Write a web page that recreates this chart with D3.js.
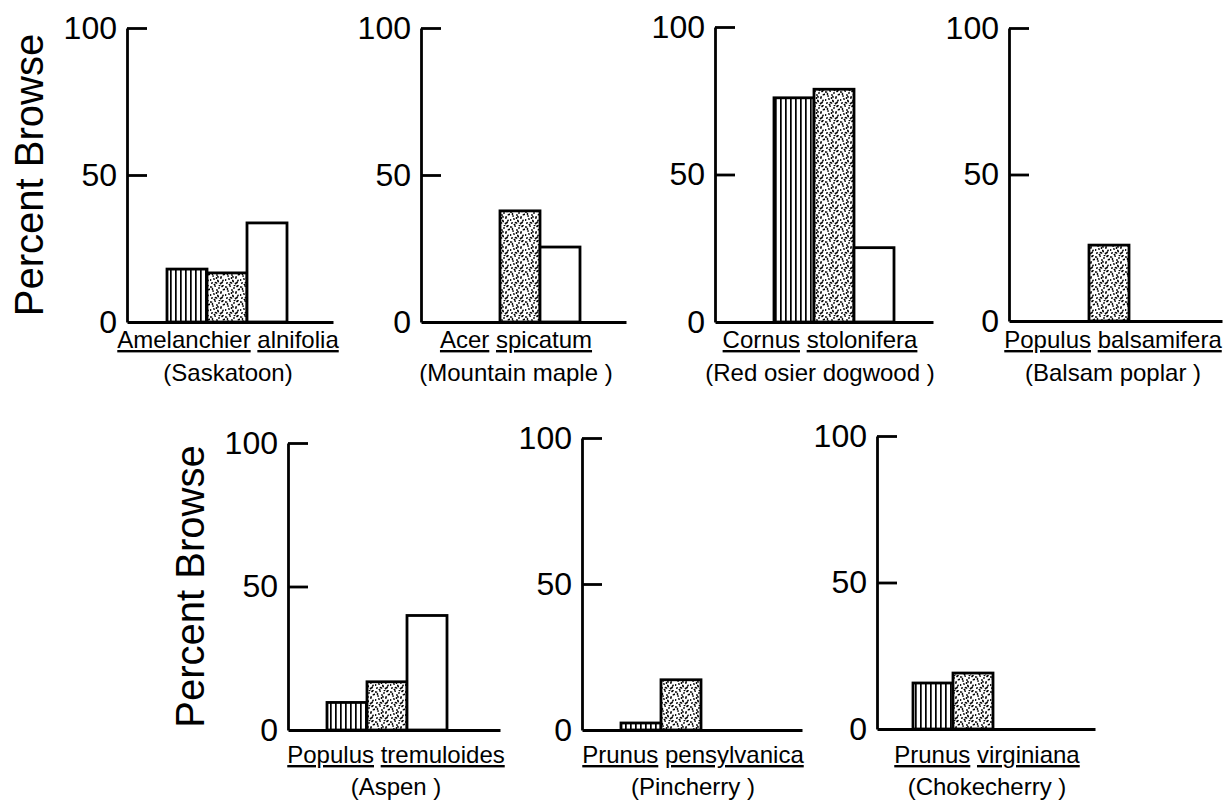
<!DOCTYPE html>
<html>
<head>
<meta charset="utf-8">
<script src="https://cdn.jsdelivr.net/npm/d3@7/dist/d3.min.js"></script>
<style>
  html, body { margin: 0; padding: 0; background: #fff; }
  svg { display: block; }
  text { font-family: "Liberation Sans", Arial, sans-serif; fill: #000; }
  .uline { text-decoration: underline; text-decoration-thickness: 1.8px; text-underline-offset: 4px; }
</style>
</head>
<body>
<svg id="chart" width="1230" height="810"></svg>
<script>
// ---------------- data ----------------
const series = ["vertical", "stippled", "open"];
const genus = ["Amelanchier", "Acer", "Cornus", "Populus", "Populus", "Prunus", "Prunus"];
const species = ["alnifolia", "spicatum", "stolonifera", "balsamifera", "tremuloides", "pensylvanica", "virginiana"];
const commonNames = ["(Saskatoon)", "(Mountain maple )", "(Red osier dogwood )", "(Balsam poplar )", "(Aspen )", "(Pincherry )", "(Chokecherry )"];
const verticalValues = [18, 0, 76, 0, 9.6, 2.4, 15.7];
const stippledValues = [16.7, 37.8, 78.9, 25.9, 16.8, 17.2, 19.1];
const openValues = [33.7, 25.5, 25.2, 0, 39.9, 0, 0];
const tickValues = [0, 50, 100];
const yAxisTitle = "Percent Browse";

// ---------------- layout (positions only) ----------------
const layout = [
  { axisX: 127,  top: 28,  base: 322, barStart: 40, len: 206, labelX: 228, line1: 348, line2: 381, title: true },
  { axisX: 421,  top: 28,  base: 322, barStart: 39, len: 205, labelX: 516, line1: 348, line2: 381 },
  { axisX: 715,  top: 27,  base: 322, barStart: 59, len: 218, labelX: 820, line1: 348, line2: 381 },
  { axisX: 1009, top: 28,  base: 321, barStart: 40, len: 213, labelX: 1113, line1: 348, line2: 381 },
  { axisX: 288,  top: 443, base: 730, barStart: 39, len: 212, labelX: 396, line1: 763, line2: 795, title: true },
  { axisX: 582,  top: 438, base: 730, barStart: 39, len: 220, labelX: 693, line1: 763, line2: 795 },
  { axisX: 877,  top: 436, base: 729, barStart: 36, len: 218, labelX: 987, line1: 763, line2: 795 }
];
const barW = 40;

const svg = d3.select("#chart");
const defs = svg.append("defs");

// vertical line hatching
const pv = defs.append("pattern").attr("id", "pat-vertical")
  .attr("patternUnits", "userSpaceOnUse").attr("width", 5).attr("height", 10);
pv.append("rect").attr("width", 5).attr("height", 10).attr("fill", "#fff");
pv.append("rect").attr("x", 0).attr("y", 0).attr("width", 1.7).attr("height", 10).attr("fill", "#000");

// stipple texture (hand-placed specks)
const stippleDots = [
  [1,2],[5,1],[9,3],[12.5,1],[3,6],[7,5],[11,7.5],[0.5,10],[4,9],[8,11],[13,10.5],
  [2,13],[6,12.8],[10.5,13.5],[6.5,8],[14,4.5],[9.5,0.3],[2.5,4],[12,12.5],[4.5,14.5],[8,6.8]
];
const ps = defs.append("pattern").attr("id", "pat-stippled")
  .attr("patternUnits", "userSpaceOnUse").attr("width", 15).attr("height", 15);
ps.append("rect").attr("width", 15).attr("height", 15).attr("fill", "#fff");
ps.selectAll("ellipse").data(stippleDots).join("ellipse")
  .attr("cx", d => d[0]).attr("cy", d => d[1])
  .attr("rx", (d, i) => i % 3 === 0 ? 1.5 : 1.0).attr("ry", 0.85)
  .attr("transform", (d, i) => `rotate(${(i * 47) % 180} ${d[0]} ${d[1]})`)
  .attr("fill", "#000");

const fills = { vertical: "url(#pat-vertical)", stippled: "url(#pat-stippled)", open: "#fff" };

layout.forEach((L, p) => {
  const vals = [verticalValues[p], stippledValues[p], openValues[p]];
  const bars = series.map((s, i) => ({ s, v: vals[i] })).filter(d => d.v > 0);

  const y = d3.scaleLinear().domain([0, 100]).range([L.base, L.top]);
  const x = d3.scaleBand().domain(series)
    .range([L.axisX + L.barStart, L.axisX + L.barStart + barW * series.length]).padding(0);
  const xBase = d3.scaleLinear().domain([0, 1]).range([L.axisX, L.axisX + L.len]);

  const g = svg.append("g");

  // bars
  g.selectAll("rect.bar").data(bars).join("rect")
    .attr("class", "bar")
    .attr("x", d => x(d.s))
    .attr("y", d => y(d.v))
    .attr("width", x.bandwidth())
    .attr("height", d => y(0) - y(d.v))
    .attr("fill", d => fills[d.s])
    .attr("stroke", "#000")
    .attr("stroke-width", 2.8);

  // baseline
  const bx = g.append("g").attr("transform", `translate(0,${y(0)})`)
    .call(d3.axisBottom(xBase).tickValues([]).tickSizeOuter(0));
  bx.select(".domain").attr("stroke", "#000").attr("stroke-width", 3);

  // y axis
  const ay = g.append("g").attr("transform", `translate(${L.axisX},0)`)
    .call(d3.axisLeft(y).tickValues(tickValues).tickSize(-20).tickSizeOuter(0).tickPadding(10).tickFormat(d3.format("d")));
  ay.select(".domain").attr("stroke", "#000").attr("stroke-width", 2.8);
  ay.selectAll(".tick line").attr("stroke", "#000").attr("stroke-width", 2.8)
    .attr("display", d => d === 0 ? "none" : null);
  ay.selectAll(".tick text")
    .style("font-family", "'Liberation Sans', Arial, sans-serif")
    .style("font-size", "32px").attr("fill", "#000");

  // labels
  const t1 = g.append("text").attr("x", L.labelX).attr("y", L.line1)
    .attr("text-anchor", "middle").style("font-size", "24px");
  t1.append("tspan").attr("class", "uline").text(genus[p]);
  t1.append("tspan").text(" ");
  t1.append("tspan").attr("class", "uline").text(species[p]);

  g.append("text").attr("x", L.labelX).attr("y", L.line2)
    .attr("text-anchor", "middle").style("font-size", "24px")
    .text(commonNames[p]);

  if (L.title) {
    const cy = (L.top + L.base) / 2;
    g.append("text")
      .attr("transform", `translate(${L.axisX - 84},${cy}) rotate(-90)`)
      .attr("text-anchor", "middle")
      .style("font-size", "40px")
      .text(yAxisTitle);
  }
});
</script>
</body>
</html>
